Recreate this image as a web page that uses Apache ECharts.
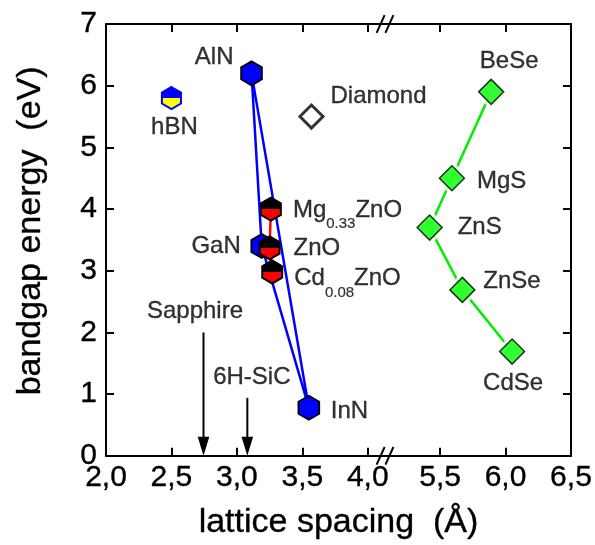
<!DOCTYPE html>
<html>
<head>
<meta charset="utf-8">
<script src="https://cdn.jsdelivr.net/npm/echarts@6/dist/echarts.min.js"></script>
<style>
  html, body { margin: 0; padding: 0; background: #fff; }
  #chart { width: 595px; height: 545px; }
</style>
</head>
<body>
<div id="chart"></div>
<script>
// ---- lattice-spacing axis with a break between 4.x and 5.x ----
const BREAK_AT = 4.5;      // lattice values above this sit on the right-hand segment
const BREAK_GAP = 0.947;   // hidden stretch of the axis (Å)
const BREAK_MARK = 4.132;  // where the "//" marks are drawn (axis units)
const X_MIN = 2.0;
const X_MAX = 6.5;
const xTickValues = [2.0, 2.5, 3.0, 3.5, 4.0, 5.5, 6.0, 6.5];
const Y_MIN = 0, Y_MAX = 7, Y_STEP = 1;

// ---- III-nitrides ----
const nitrideNames   = ['AlN', 'GaN', 'InN'];
const nitrideLattice = [3.112, 3.19, 3.55];
const nitrideGap     = [6.2, 3.4, 0.78];

// ---- ZnO and its alloys ----
const oxideNames   = ['Mg0.33ZnO', 'ZnO', 'Cd0.08ZnO'];
const oxideLattice = [3.26, 3.25, 3.27];
const oxideGap     = [4.0, 3.37, 2.98];

// ---- hexagonal boron nitride ----
const bnNames   = ['hBN'];
const bnLattice = [2.5];
const bnGap     = [5.8];

// ---- diamond ----
const diamondNames   = ['Diamond'];
const diamondLattice = [3.57];
const diamondGap     = [5.5];

// ---- II-VI compounds (joined in this order) ----
const iiviNames   = ['BeSe', 'MgS', 'ZnS', 'ZnSe', 'CdSe'];
const iiviLattice = [5.89, 5.59, 5.42, 5.67, 6.05];
const iiviGap     = [5.9, 4.5, 3.7, 2.69, 1.69];

// ---- substrates (arrows pointing at the lattice axis) ----
const substrateNames    = ['Sapphire', '6H-SiC'];
const substrateLattice  = [2.745, 3.08];
const substrateArrowTop = [2.0, 0.94];

// ---- label placement (pixels from the mark centre) ----
const labelPlacement = {
  'AlN':       { dx: -18, dy: -16,  align: 'right'  },
  'GaN':       { dx: -21, dy: 0,    align: 'right'  },
  'InN':       { dx: 22,  dy: 4,    align: 'left'   },
  'Mg0.33ZnO': { dx: 22,  dy: 1,    align: 'left'   },
  'ZnO':       { dx: 24,  dy: 0,    align: 'left'   },
  'Cd0.08ZnO': { dx: 22,  dy: 6.5,  align: 'left'   },
  'hBN':       { dx: 3,   dy: 29,   align: 'center' },
  'Diamond':   { dx: 19,  dy: -20.5,align: 'left'   },
  'BeSe':      { dx: 18,  dy: -30,  align: 'center' },
  'MgS':       { dx: 25,  dy: 3,    align: 'left'   },
  'ZnS':       { dx: 28,  dy: 0,    align: 'left'   },
  'ZnSe':      { dx: 21,  dy: -8.5, align: 'left'   },
  'CdSe':      { dx: 1,   dy: 32,   align: 'center' },
  'Sapphire':  { dx: -8.5,dy: -21,  align: 'center' },
  '6H-SiC':    { dx: 4.5, dy: -20.5,align: 'center' }
};
const richNames = {
  'Mg0.33ZnO': '{m|Mg}{s|0.33}{m|ZnO}',
  'Cd0.08ZnO': '{m|Cd}{s|0.08}{m|ZnO}'
};

const FONT = 'Liberation Sans, Arial, Helvetica, sans-serif';
const INK = '#000';
// a hairline outline keeps the glyphs as dark as the frame
const TEXT_WEIGHT = { textBorderColor: INK, textBorderWidth: 0.35 };

function toAxis(x) { return x > BREAK_AT ? x - BREAK_GAP : x; }
function pts(xs, ys) { return xs.map((x, i) => [toAxis(x), ys[i]]); }

const xAxisTickPos = xTickValues.map(toAxis);

function hexSeries(name, xs, ys, R, topFill, bottomFill, stroke, lw) {
  return {
    name: name,
    type: 'custom',
    xAxisIndex: 0, yAxisIndex: 0,
    data: pts(xs, ys),
    z: 5,
    renderItem(params, api) {
      const c = api.coord([api.value(0), api.value(1)]);
      const hex = [];
      for (let k = 0; k < 6; k++) {
        const a = (-90 + 60 * k) * Math.PI / 180;
        hex.push([c[0] + R * Math.cos(a), c[1] + R * Math.sin(a)]);
      }
      const hw = R * Math.cos(Math.PI / 6);
      const lower = [[c[0] + hw, c[1]], hex[2], hex[3], hex[4], [c[0] - hw, c[1]]];
      return {
        type: 'group',
        children: [
          { type: 'polygon', shape: { points: hex }, style: { fill: topFill } },
          { type: 'polygon', shape: { points: lower }, style: { fill: bottomFill } },
          { type: 'polygon', shape: { points: hex }, style: { fill: 'none', stroke: stroke, lineWidth: lw } }
        ]
      };
    }
  };
}

function lineSeries(xs, ys, color, width) {
  return {
    type: 'line',
    xAxisIndex: 0, yAxisIndex: 0,
    data: pts(xs, ys),
    showSymbol: false,
    symbol: 'none',
    lineStyle: { color: color, width: width },
    z: 2
  };
}

// every label as a text-only point
const labelItems = [];
function addLabels(names, xs, ys) {
  names.forEach((n, i) => {
    const p = labelPlacement[n];
    labelItems.push({
      name: n,
      value: [toAxis(xs[i]), ys[i]],
      label: { position: [p.dx + 0.5, p.dy + 0.5], align: p.align }
    });
  });
}
addLabels(nitrideNames, nitrideLattice, nitrideGap);
addLabels(oxideNames, oxideLattice, oxideGap);
addLabels(bnNames, bnLattice, bnGap);
addLabels(diamondNames, diamondLattice, diamondGap);
addLabels(iiviNames, iiviLattice, iiviGap);
addLabels(substrateNames, substrateLattice, substrateArrowTop);

const chart = echarts.init(document.getElementById('chart'), null, { renderer: 'canvas' });

const axisLineStyle = { color: INK, width: 2 };
const tickStyle = { show: true, inside: true, length: 8, lineStyle: { color: INK, width: 2 } };

// lattice tick labels use a decimal comma
function xLabel(u) {
  const v = u > 4.3 ? u + BREAK_GAP : u;
  return v.toFixed(1).replace('.', ',');
}

chart.setOption({
  animation: false,
  backgroundColor: '#fff',
  grid: { left: 106, right: 20, top: 24, bottom: 89 },
  xAxis: [
    {
      type: 'value', position: 'bottom',
      min: X_MIN, max: toAxis(X_MAX),
      axisLine: { show: true, onZero: false, lineStyle: axisLineStyle },
      axisTick: Object.assign({ customValues: xAxisTickPos }, tickStyle),
      axisLabel: Object.assign({
        customValues: xAxisTickPos,
        formatter: xLabel,
        color: INK, fontSize: 30, fontFamily: FONT, margin: 7
      }, TEXT_WEIGHT),
      splitLine: { show: false },
      name: 'lattice spacing  (Å)',
      nameLocation: 'middle',
      nameGap: 50,
      nameTextStyle: Object.assign({ color: INK, fontSize: 34, fontFamily: FONT }, TEXT_WEIGHT)
    },
    {
      type: 'value', position: 'top',
      min: X_MIN, max: toAxis(X_MAX),
      axisLine: { show: true, onZero: false, lineStyle: axisLineStyle },
      axisTick: Object.assign({ customValues: xAxisTickPos }, tickStyle),
      axisLabel: { show: false },
      splitLine: { show: false }
    }
  ],
  yAxis: [
    {
      type: 'value', position: 'left',
      min: Y_MIN, max: Y_MAX, interval: Y_STEP,
      axisLine: { show: true, onZero: false, lineStyle: axisLineStyle },
      axisTick: tickStyle,
      axisLabel: Object.assign({ color: INK, fontSize: 30, fontFamily: FONT, margin: 9 }, TEXT_WEIGHT),
      splitLine: { show: false },
      name: 'bandgap energy  (eV)',
      nameLocation: 'middle',
      nameGap: 58,
      nameTextStyle: Object.assign({ color: INK, fontSize: 34, fontFamily: FONT, padding: [0, 0, 0, 18] }, TEXT_WEIGHT)
    },
    {
      type: 'value', position: 'right',
      min: Y_MIN, max: Y_MAX, interval: Y_STEP,
      axisLine: { show: true, onZero: false, lineStyle: axisLineStyle },
      axisTick: tickStyle,
      axisLabel: { show: false },
      splitLine: { show: false }
    }
  ],
  series: [
    // nitride triangle: AlN-GaN-InN and back to AlN
    lineSeries(nitrideLattice.concat([nitrideLattice[0]]), nitrideGap.concat([nitrideGap[0]]), '#0000ff', 2.5),
    lineSeries(oxideLattice, oxideGap, '#ff0000', 2.5),
    lineSeries(iiviLattice, iiviGap, '#00ee00', 2.5),
    // white rims so the green line stops short of each marker
    {
      type: 'scatter', xAxisIndex: 0, yAxisIndex: 0,
      data: pts(iiviLattice, iiviGap),
      symbol: 'diamond', symbolSize: 36,
      itemStyle: { color: '#fff' }, z: 3, silent: true
    },
    {
      type: 'scatter', xAxisIndex: 0, yAxisIndex: 0,
      data: pts(iiviLattice, iiviGap),
      symbol: 'diamond', symbolSize: 25,
      itemStyle: { color: '#00ff00', borderColor: INK, borderWidth: 1.5 }, z: 4
    },
    {
      type: 'scatter', xAxisIndex: 0, yAxisIndex: 0,
      data: pts(diamondLattice, diamondGap),
      symbol: 'diamond', symbolSize: 23,
      itemStyle: { color: '#fff', borderColor: INK, borderWidth: 3 }, z: 4
    },
    hexSeries('nitrides', nitrideLattice, nitrideGap, 12, '#0000ff', '#0000ff', INK, 1.8),
    hexSeries('oxides', oxideLattice, oxideGap, 11.5, '#000000', '#ff0000', INK, 2),
    hexSeries('hBN', bnLattice, bnGap, 11, '#0000ff', '#ffff00', '#0000ff', 2),
    // substrate arrows
    {
      type: 'custom', xAxisIndex: 0, yAxisIndex: 0,
      data: pts(substrateLattice, substrateArrowTop),
      z: 5,
      renderItem(params, api) {
        const top = api.coord([api.value(0), api.value(1)]);
        const tip = api.coord([api.value(0), Y_MIN]);
        const headLen = 19, headHalf = 5.8;
        return {
          type: 'group',
          children: [
            { type: 'line', shape: { x1: top[0], y1: top[1], x2: tip[0], y2: tip[1] - headLen + 2 },
              style: { stroke: INK, lineWidth: 2 } },
            { type: 'polygon', shape: { points: [[tip[0], tip[1]], [tip[0] - headHalf, tip[1] - headLen], [tip[0] + headHalf, tip[1] - headLen]] },
              style: { fill: INK } }
          ]
        };
      }
    },
    // text labels
    {
      type: 'scatter', xAxisIndex: 0, yAxisIndex: 0,
      data: labelItems,
      symbol: 'circle', symbolSize: 1,
      itemStyle: { color: 'rgba(0,0,0,0)' },
      z: 10, silent: true,
      label: Object.assign({
        show: true,
        verticalAlign: 'middle',
        color: INK, fontSize: 24, fontFamily: FONT,
        formatter: (p) => richNames[p.name] || p.name,
        rich: {
          m: Object.assign({ fontSize: 24, fontFamily: FONT, color: INK }, TEXT_WEIGHT),
          s: Object.assign({ fontSize: 15, fontFamily: FONT, color: INK, padding: [28, 0, 0, 0] }, { textBorderColor: INK, textBorderWidth: 0.2 })
        }
      }, TEXT_WEIGHT)
    }
  ]
});

// "//" marks where the lattice axis is broken, on the bottom and top frame lines
const bx = chart.convertToPixel({ xAxisIndex: 0 }, BREAK_MARK);
const yBottom = chart.convertToPixel({ yAxisIndex: 0 }, Y_MIN);
const yTop = chart.convertToPixel({ yAxisIndex: 0 }, Y_MAX);
const slashes = [];
[yBottom, yTop].forEach((y) => {
  [-4.4, 4.4].forEach((off) => {
    slashes.push({
      type: 'line',
      shape: { x1: bx + off - 4, y1: y + 8.8, x2: bx + off + 4, y2: y - 8.8 },
      style: { stroke: INK, lineWidth: 2 },
      z: 20
    });
  });
});
chart.setOption({ graphic: slashes });
</script>
</body>
</html>
